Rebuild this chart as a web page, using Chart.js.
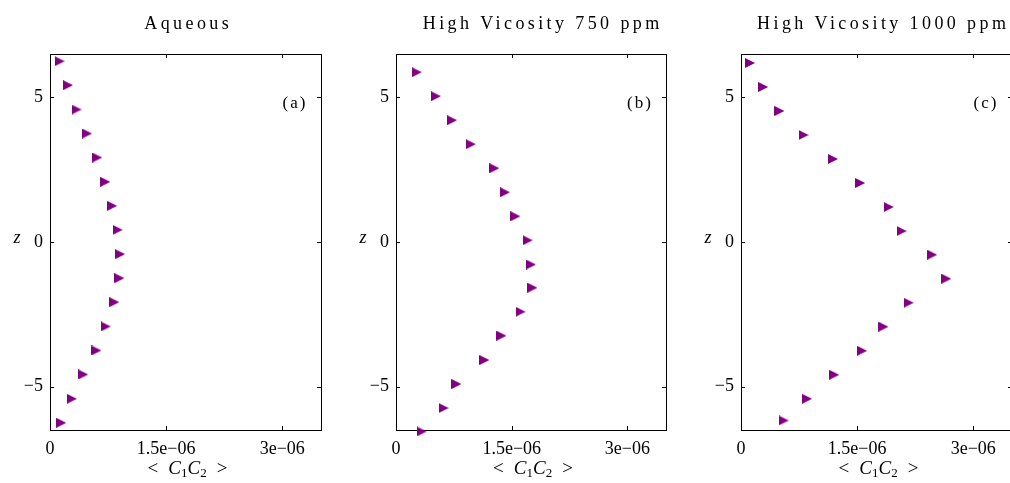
<!DOCTYPE html>
<html>
<head>
<meta charset="utf-8">
<script src="https://cdn.jsdelivr.net/npm/chart.js@4/dist/chart.umd.min.js"></script>
<style>
  html, body { margin: 0; padding: 0; background: #fff; overflow: hidden; width: 1010px; height: 483px; }
  .panel { position: absolute; top: 0; }
</style>
</head>
<body>
<canvas id="panelA" class="panel" style="left:0px" width="331" height="483"></canvas>
<canvas id="panelB" class="panel" style="left:346px" width="330" height="483"></canvas>
<canvas id="panelC" class="panel" style="left:691px" width="331" height="483"></canvas>
<script>
// Profiles of <C1C2> against height z
const panelTitles = ['Aqueous', 'High Vicosity 750 ppm', 'High Vicosity 1000 ppm'];
const panelTags = ['(a)', '(b)', '(c)'];

const zAqueous = [6.25, 5.42, 4.58, 3.75, 2.92, 2.08, 1.25, 0.42, -0.42, -1.25, -2.08, -2.92, -3.75, -4.58, -5.42, -6.25];
const c1c2Aqueous = [1.25e-7, 2.33e-7, 3.43e-7, 4.78e-7, 6.10e-7, 7.14e-7, 8.02e-7, 8.73e-7, 9.05e-7, 8.96e-7, 8.31e-7, 7.20e-7, 5.99e-7, 4.29e-7, 2.82e-7, 1.45e-7];

const zHv750 = [5.87, 5.04, 4.21, 3.38, 2.55, 1.72, 0.89, 0.06, -0.78, -1.58, -2.41, -3.24, -4.08, -4.91, -5.74, -6.55];
const c1c2Hv750 = [2.69e-7, 5.18e-7, 7.27e-7, 9.69e-7, 1.276e-6, 1.413e-6, 1.548e-6, 1.707e-6, 1.750e-6, 1.769e-6, 1.614e-6, 1.367e-6, 1.146e-6, 7.84e-7, 6.17e-7, 3.32e-7];

const zHv1000 = [6.19, 5.36, 4.53, 3.70, 2.87, 2.04, 1.21, 0.38, -0.44, -1.27, -2.10, -2.93, -3.76, -4.59, -5.42, -6.17];
const c1c2Hv1000 = [1.17e-7, 2.86e-7, 4.96e-7, 8.08e-7, 1.188e-6, 1.539e-6, 1.908e-6, 2.074e-6, 2.470e-6, 2.652e-6, 2.165e-6, 1.840e-6, 1.564e-6, 1.204e-6, 8.53e-7, 5.51e-7];

const xTicks = [0, 1.5e-6, 3e-6];
const xTickLabels = ['0', '1.5e\u221206', '3e\u221206'];
const yTicks = [-5, 0, 5];
const yTickLabels = ['\u22125', '0', '5'];

const SERIF = '"Liberation Serif", "Times New Roman", serif';
const MARKER_COLOR = '#800080';

// right-pointing triangle marker
function makeTriangle(size, color) {
  const c = document.createElement('canvas');
  c.width = size; c.height = size;
  const g = c.getContext('2d');
  g.fillStyle = color;
  g.beginPath();
  g.moveTo(0, 0);
  g.lineTo(size, size / 2);
  g.lineTo(0, size);
  g.closePath();
  g.fill();
  return c;
}
const triangle = makeTriangle(10, MARKER_COLOR);

// draw a run of text pieces with their own fonts and offsets, centred at cx
function drawRun(ctx, parts, cx, y) {
  let w = 0;
  parts.forEach(p => {
    if (p.text) { ctx.font = p.font; p.w = ctx.measureText(p.text).width; }
    else p.w = p.gap;
    w += p.w;
  });
  let x = cx - w / 2;
  ctx.textAlign = 'left';
  ctx.textBaseline = 'alphabetic';
  parts.forEach(p => {
    if (p.text) { ctx.font = p.font; ctx.fillText(p.text, x, y + (p.dy || 0)); }
    x += p.w;
  });
}

// axes box with inward ticks on all four sides, plus the panel texts
const frame = {
  id: 'frame',
  beforeDatasetsDraw(chart) {
    const { ctx, chartArea: a, scales } = chart;
    ctx.save();
    ctx.strokeStyle = '#000';
    ctx.lineWidth = 1;
    ctx.strokeRect(Math.round(a.left) + 0.5, Math.round(a.top) + 0.5,
      Math.round(a.right - a.left), Math.round(a.bottom - a.top));
    const len = 4;
    ctx.beginPath();
    xTicks.forEach(v => {
      const px = Math.round(scales.x.getPixelForValue(v)) + 0.5;
      ctx.moveTo(px, a.bottom); ctx.lineTo(px, a.bottom - len);
      ctx.moveTo(px, a.top); ctx.lineTo(px, a.top + len);
    });
    yTicks.forEach(v => {
      const py = Math.round(scales.y.getPixelForValue(v)) + 0.5;
      ctx.moveTo(a.left, py); ctx.lineTo(a.left + len, py);
      ctx.moveTo(a.right, py); ctx.lineTo(a.right - len, py);
    });
    ctx.stroke();
    ctx.restore();
  },
  afterDraw(chart, args, opts) {
    const { ctx, chartArea: a } = chart;
    ctx.save();
    ctx.fillStyle = '#000';
    // panel title (spaced lettering)
    ctx.font = '18px ' + SERIF;
    ctx.letterSpacing = '3.4px';
    ctx.textAlign = 'center';
    ctx.textBaseline = 'alphabetic';
    ctx.fillText(opts.title, (a.left + a.right) / 2 + 1.7 + opts.titleDx, 29);
    // panel tag
    ctx.font = '17px ' + SERIF;
    ctx.letterSpacing = '2px';
    ctx.fillText(opts.tag, a.right - 26, 108);
    ctx.letterSpacing = '0px';
    // y label
    ctx.font = 'italic 18px ' + SERIF;
    ctx.fillText('z', 17, 243);
    // x label  < C1C2 >
    const rm = '19px ' + SERIF, it = 'italic 19px ' + SERIF, sub = '13px ' + SERIF;
    drawRun(ctx, [
      { text: '<', font: rm }, { gap: 10 },
      { text: 'C', font: it }, { text: '1', font: sub, dy: 3 },
      { text: 'C', font: it }, { text: '2', font: sub, dy: 3 },
      { gap: 10 }, { text: '>', font: rm }
    ], (a.left + a.right) / 2 + 2, 474);
    ctx.restore();
  }
};

Chart.defaults.font.family = SERIF;
Chart.defaults.color = '#000';

function makePanel(id, idx, zs, cs, titleDx) {
  return new Chart(document.getElementById(id), {
    type: 'scatter',
    data: {
      datasets: [{
        data: zs.map((z, i) => ({ x: cs[i], y: z })),
        pointStyle: triangle,
        pointRadius: 5,
        backgroundColor: MARKER_COLOR,
        borderColor: MARKER_COLOR,
        showLine: false,
        clip: false
      }]
    },
    options: {
      responsive: false,
      animation: false,
      devicePixelRatio: 1,
      layout: { padding: { left: 0, top: 54, right: 10, bottom: 0 } },
      plugins: {
        legend: { display: false },
        tooltip: { enabled: false },
        frame: { title: panelTitles[idx], tag: panelTags[idx], titleDx: titleDx }
      },
      scales: {
        x: {
          type: 'linear', position: 'bottom', min: 0, max: 3.5e-6,
          afterBuildTicks: s => { s.ticks = xTicks.map(v => ({ value: v })); },
          afterFit: s => { s.height = 53; },
          grid: { display: false, drawTicks: false },
          border: { display: false },
          ticks: { autoSkip: false, maxRotation: 0, padding: 8, font: { size: 18, family: SERIF }, color: '#000',
            callback: (v, i) => xTickLabels[i] }
        },
        y: {
          type: 'linear', position: 'left', min: -6.5, max: 6.5,
          afterBuildTicks: s => { s.ticks = yTicks.map(v => ({ value: v })); },
          afterFit: s => { s.width = 50; },
          grid: { display: false, drawTicks: false },
          border: { display: false },
          ticks: { autoSkip: false, padding: 7, font: { size: 18, family: SERIF }, color: '#000',
            callback: (v, i) => yTickLabels[i] }
        }
      }
    },
    plugins: [frame]
  });
}

makePanel('panelA', 0, zAqueous, c1c2Aqueous, 1);
makePanel('panelB', 1, zHv750, c1c2Hv750, 10);
makePanel('panelC', 2, zHv1000, c1c2Hv1000, 5);
</script>
</body>
</html>
